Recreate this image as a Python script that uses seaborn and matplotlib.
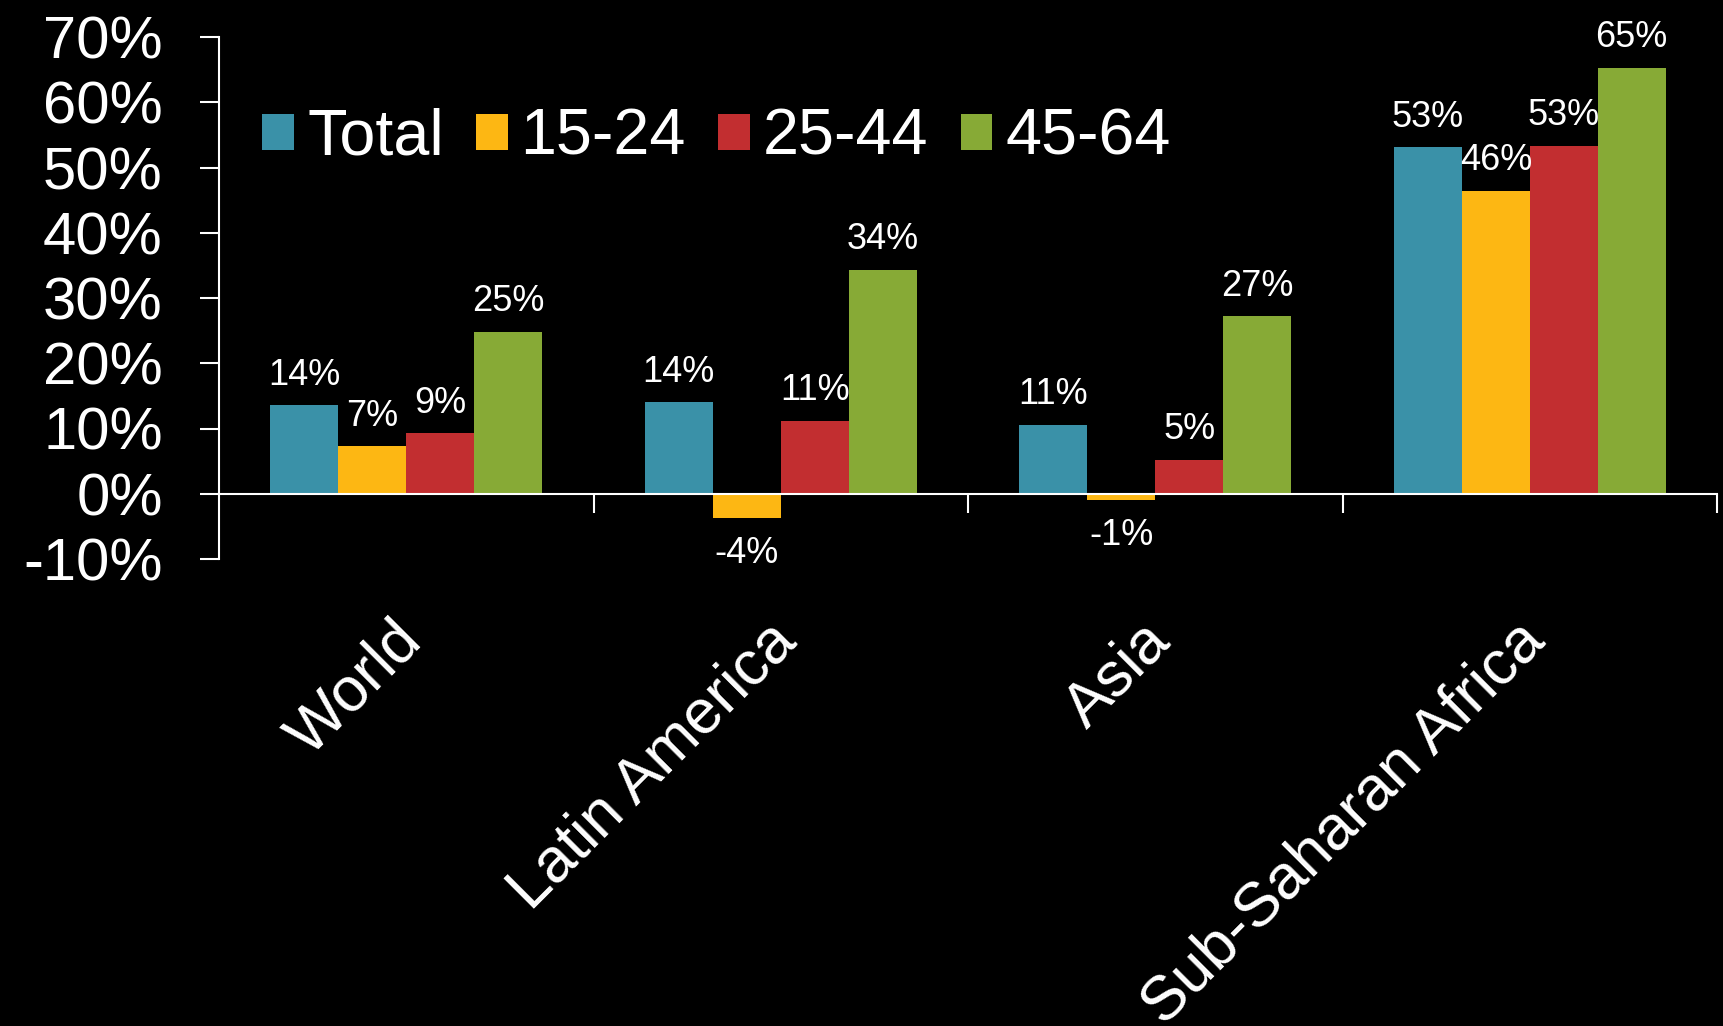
import matplotlib
matplotlib.use("Agg")
import matplotlib.pyplot as plt
import matplotlib.ticker as mticker
import matplotlib.transforms as mtransforms
import seaborn as sns
import pandas as pd

regions = ["World", "Latin America", "Asia", "Sub-Saharan Africa"]
groups = ["Total", "15-24", "25-44", "45-64"]
total = [13.6, 14.0, 10.6, 53.1]
age_15_24 = [7.3, -3.7, -0.9, 46.4]
age_25_44 = [9.3, 11.2, 5.2, 53.3]
age_45_64 = [24.8, 34.3, 27.2, 65.3]
palette = ["#3A91A8", "#FDB713", "#C22E30", "#87AA36"]
y_ticks = [-10, 0, 10, 20, 30, 40, 50, 60, 70]

series = [total, age_15_24, age_25_44, age_45_64]
rows = []
for g, vals in zip(groups, series):
    for r, v in zip(regions, vals):
        rows.append({"region": r, "group": g, "value": v})
df = pd.DataFrame(rows)

sns.set_style("ticks", rc={
    "axes.facecolor": "black",
    "figure.facecolor": "black",
    "axes.edgecolor": "white",
    "xtick.color": "white",
    "ytick.color": "white",
    "text.color": "white",
    "axes.labelcolor": "white",
})
plt.rcParams["font.family"] = ["Liberation Sans", "DejaVu Sans"]

fig = plt.figure(figsize=(17.23, 10.26), dpi=100)
ax = fig.add_axes([219 / 1723, 1 - 559 / 1026, (1717 - 219) / 1723, (559 - 37) / 1026])

sns.barplot(data=df, x="region", y="value", hue="group", order=regions,
            hue_order=groups, palette=palette, saturation=1, width=0.726,
            linewidth=0, ax=ax)

for cont, vals in zip(ax.containers, series):
    ax.bar_label(cont, labels=[f"{v:.0f}%" if v >= 0 else "" for v in vals],
                 padding=9, fontsize=26, color="white")
    ax.bar_label(cont, labels=[f"{v:.0f}%" if v < 0 else "" for v in vals],
                 padding=13, fontsize=26, color="white")

ax.set_xlim(-0.5, 3.5)
ax.set_ylim(-10, 70)
ax.set_yticks(y_ticks)
ax.yaxis.set_major_formatter(mticker.FuncFormatter(lambda v, p: f"{v:.0f}%"))
ax.tick_params(axis="y", direction="out", length=13.5, width=1.5, pad=27,
               labelsize=43, colors="white")

ax.spines["top"].set_visible(False)
ax.spines["right"].set_visible(False)
ax.spines["left"].set_linewidth(1.5)
ax.spines["bottom"].set_linewidth(1.5)
ax.spines["bottom"].set_position(("data", 0))

ax.set_xticks([0.5, 1.5, 2.5, 3.5], minor=True)
ax.tick_params(axis="x", which="minor", direction="out", length=13.5, width=1.5)
ax.tick_params(axis="x", which="major", length=0, pad=80, labelsize=45, colors="white")
offset = mtransforms.ScaledTranslation(-0.15, -0.06, fig.dpi_scale_trans)
for lab in ax.get_xticklabels():
    lab.set_rotation(45)
    lab.set_ha("right")
    lab.set_va("top")
    lab.set_rotation_mode("anchor")
    lab.set_transform(lab.get_transform() + offset)

ax.set_xlabel("")
ax.set_ylabel("")

leg = ax.legend(loc="center left", bbox_to_anchor=(0.029, 0.807), ncol=4,
                frameon=False, fontsize=46.5, handlelength=0.49, handleheight=0.49,
                handletextpad=0.2, columnspacing=0.5, borderpad=0, borderaxespad=0)
for t in leg.get_texts():
    t.set_color("white")

fig.savefig("out.png", dpi=100, facecolor="black")
